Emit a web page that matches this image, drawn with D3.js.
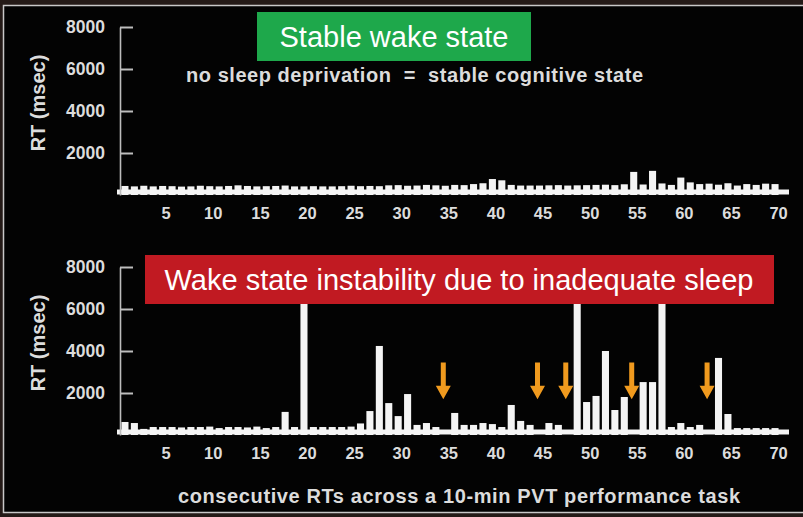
<!DOCTYPE html>
<html>
<head>
<meta charset="utf-8">
<script src="https://cdn.jsdelivr.net/npm/d3@7"></script>
<style>
  body { margin: 0; background: #241a17; }
  svg { display: block; font-family: "Liberation Sans", Arial, sans-serif; }
</style>
</head>
<body>
<svg id="chart" width="803" height="517"></svg>
<script>
// consecutive trial numbers of the PVT
const trials = d3.range(1, 71);

// reaction times (msec), rested subject
const restedRT = [
  430, 410, 440, 410, 430, 420, 400, 410, 440, 420,
  410, 430, 460, 430, 410, 420, 430, 450, 410, 410,
  420, 410, 410, 420, 440, 420, 430, 420, 460, 470,
  440, 450, 480, 460, 440, 480, 470, 520, 560, 760,
  700, 480, 450, 450, 450, 460, 470, 450, 460, 470,
  480, 490, 470, 510, 1100, 500, 1150, 550, 480, 830,
  600, 520, 540, 490, 560, 450, 520, 480, 540, 520
];

// reaction times (msec), sleep deprived subject
const deprivedRT = [
  620, 570, 290, 380, 380, 380, 360, 380, 380, 400,
  330, 380, 380, 360, 400, 330, 380, 1100, 380, 8000,
  380, 380, 380, 380, 400, 550, 1140, 4240, 1520, 900,
  1950, 480, 570, 380, 0, 1050, 480, 480, 570, 520,
  380, 1430, 670, 480, 0, 570, 480, 0, 8000, 1570,
  1860, 4000, 1190, 1810, 0, 2520, 2520, 8000, 380, 570,
  380, 480, 0, 3670, 1000, 330, 330, 330, 330, 330
];

// trials marked with an arrow (no response)
const lapseTrials = [35, 45, 48, 55, 63];

const xTickLabels = [5, 10, 15, 20, 25, 30, 35, 40, 45, 50, 55, 60, 65, 70];
const yTickLabels = [2000, 4000, 6000, 8000];

const svg = d3.select('#chart');

// frame
svg.append('rect')
  .attr('x', 3.5).attr('y', 5.5)
  .attr('width', 805).attr('height', 507)
  .attr('fill', '#030303')
  .attr('stroke', '#c8c8c8')
  .attr('stroke-width', 1.5);

const x = d3.scaleBand()
  .domain(trials)
  .range([120.3, 779.7])
  .paddingInner(0.25)
  .paddingOuter(0.12);

function drawPanel(values, zeroY, topY) {
  const y = d3.scaleLinear().domain([0, 8000]).range([zeroY, topY]);
  const g = svg.append('g');

  g.selectAll('rect.bar')
    .data(values)
    .join('rect')
    .attr('class', 'bar')
    .attr('x', (d, i) => x(trials[i]))
    .attr('width', x.bandwidth())
    .attr('y', d => y(d))
    .attr('height', d => zeroY - y(d))
    .attr('fill', '#f4f4f4');

  // thick baseline
  g.append('line')
    .attr('x1', 117).attr('x2', 789)
    .attr('y1', zeroY - 3).attr('y2', zeroY - 3)
    .attr('stroke', '#f4f4f4')
    .attr('stroke-width', 5);

  const yAxis = g.append('g')
    .attr('transform', 'translate(120,0)')
    .call(d3.axisLeft(y)
      .tickValues(yTickLabels)
      .tickFormat(d3.format('d'))
      .tickSizeInner(-13)
      .tickSizeOuter(0)
      .tickPadding(15));
  yAxis.select('.domain').attr('stroke', '#bdbdbd').attr('stroke-width', 1.6);
  yAxis.selectAll('.tick line').attr('stroke', '#bdbdbd').attr('stroke-width', 2);
  yAxis.selectAll('.tick text')
    .attr('fill', '#dcdcdc')
    .attr('font-size', 17.5)
    .attr('font-weight', 'bold')
    .attr('font-family', '"Liberation Sans", Arial, sans-serif');

  const xAxis = g.append('g')
    .attr('transform', `translate(${x.bandwidth() / 2},${zeroY})`)
    .call(d3.axisBottom(x)
      .tickValues(xTickLabels)
      .tickSize(0)
      .tickPadding(12));
  xAxis.select('.domain').remove();
  xAxis.selectAll('.tick text')
    .attr('fill', '#dcdcdc')
    .attr('font-size', 16.5)
    .attr('font-weight', 'bold')
    .attr('font-family', '"Liberation Sans", Arial, sans-serif');

  g.append('text')
    .attr('transform', `translate(45,${(zeroY + topY) / 2 - 8}) rotate(-90)`)
    .attr('text-anchor', 'middle')
    .attr('fill', '#dcdcdc')
    .attr('font-size', 20)
    .attr('font-weight', 'bold')
    .text('RT (msec)');

  return y;
}

const yTop = drawPanel(restedRT, 195, 27);
const yBottom = drawPanel(deprivedRT, 435, 267);

// top panel labels
svg.append('rect')
  .attr('x', 257).attr('y', 12)
  .attr('width', 274).attr('height', 49)
  .attr('fill', '#1ea84b');
svg.append('text')
  .attr('x', 394).attr('y', 47)
  .attr('text-anchor', 'middle')
  .attr('fill', '#ffffff')
  .attr('font-size', 29)
  .text('Stable wake state');
svg.append('text')
  .attr('x', 186).attr('y', 82)
  .attr('fill', '#dcdcdc')
  .attr('font-size', 20)
  .attr('font-weight', 'bold')
  .attr('textLength', 457)
  .attr('lengthAdjust', 'spacing')
  .attr('xml:space', 'preserve')
  .style('white-space', 'pre')
  .text('no sleep deprivation  =  stable cognitive state');

// bottom panel labels
svg.append('rect')
  .attr('x', 145).attr('y', 255)
  .attr('width', 629).attr('height', 49)
  .attr('fill', '#c11a22');
svg.append('text')
  .attr('x', 459).attr('y', 290)
  .attr('text-anchor', 'middle')
  .attr('fill', '#ffffff')
  .attr('font-size', 29)
  .text('Wake state instability due to inadequate sleep');

// lapse arrows
const arrowTop = 3450, arrowNeck = 2350, arrowTip = 1700;
svg.append('g')
  .selectAll('path')
  .data(lapseTrials)
  .join('path')
  .attr('transform', d => `translate(${x(d) + x.bandwidth() / 2 - 2},0)`)
  .attr('d', () => {
    const t = yBottom(arrowTop), n = yBottom(arrowNeck), p = yBottom(arrowTip);
    return `M-2.5,${t}H2.5V${n}H7.5L0,${p}L-7.5,${n}H-2.5Z`;
  })
  .attr('fill', '#f09a1e');

// x axis title
svg.append('text')
  .attr('x', 178).attr('y', 503)
  .attr('fill', '#dcdcdc')
  .attr('font-size', 20)
  .attr('font-weight', 'bold')
  .attr('textLength', 562)
  .attr('lengthAdjust', 'spacing')
  .text('consecutive RTs across a 10-min PVT performance task');
</script>
</body>
</html>
